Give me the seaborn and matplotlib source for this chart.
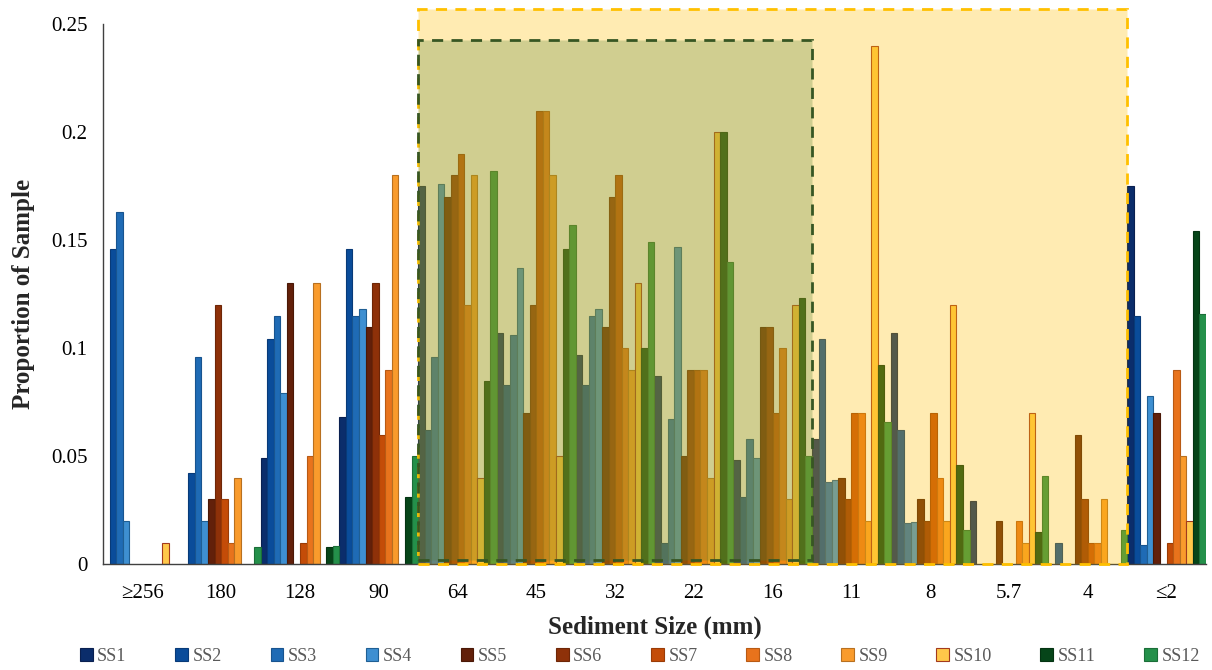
import numpy as np
import pandas as pd
import matplotlib
matplotlib.use('Agg')
import matplotlib.pyplot as plt
import seaborn as sns
from matplotlib.patches import Rectangle, Patch

sizes = ['≥256', '180', '128', '90', '64', '45', '32', '22', '16', '11', '8', '5.7', '4', '≤2']
series = ['SS1', 'SS2', 'SS3', 'SS4', 'SS5', 'SS6', 'SS7', 'SS8', 'SS9', 'SS10', 'SS11', 'SS12']

ss1 = [0, 0, 0.049, 0.068, 0.175, 0.107, 0.097, 0.087, 0.048, 0.058, 0.107, 0.029, 0, 0.175]
ss2 = [0.146, 0.042, 0.104, 0.146, 0.062, 0.083, 0.083, 0.01, 0.031, 0.104, 0.062, 0, 0.01, 0.115]
ss3 = [0.163, 0.096, 0.115, 0.115, 0.096, 0.106, 0.115, 0.067, 0.058, 0.038, 0.019, 0, 0, 0.009]
ss4 = [0.02, 0.02, 0.079, 0.118, 0.176, 0.137, 0.118, 0.147, 0.049, 0.039, 0.0195, 0, 0, 0.078]
ss5 = [0, 0.03, 0.13, 0.11, 0.17, 0.07, 0.11, 0.05, 0.11, 0.04, 0.03, 0.02, 0.06, 0.07]
ss6 = [0, 0.12, 0, 0.13, 0.18, 0.12, 0.17, 0.09, 0.11, 0.03, 0.02, 0, 0.03, 0]
ss7 = [0, 0.03, 0.01, 0.06, 0.19, 0.21, 0.18, 0.09, 0.07, 0.07, 0.07, 0, 0.01, 0.01]
ss8 = [0, 0.01, 0.05, 0.09, 0.12, 0.21, 0.10, 0.09, 0.10, 0.07, 0.04, 0.02, 0.01, 0.09]
ss9 = [0, 0.04, 0.13, 0.18, 0.18, 0.18, 0.09, 0.04, 0.03, 0.02, 0.02, 0.01, 0.03, 0.05]
ss10 = [0.01, 0, 0, 0, 0.04, 0.05, 0.13, 0.20, 0.12, 0.24, 0.12, 0.07, 0, 0.02]
ss11 = [0, 0, 0.008, 0.031, 0.085, 0.146, 0.10, 0.20, 0.123, 0.092, 0.046, 0.015, 0, 0.154]
ss12 = [0, 0.008, 0.0085, 0.05, 0.182, 0.157, 0.149, 0.14, 0.05, 0.066, 0.016, 0.041, 0.016, 0.116]

all_series = [ss1, ss2, ss3, ss4, ss5, ss6, ss7, ss8, ss9, ss10, ss11, ss12]

colors = ['#0B2D6B', '#0A4C9A', '#1F6BB5', '#3E8FD1', '#62200A', '#8E3109',
          '#C44C08', '#E8731C', '#F99B2C', '#FFC84A', '#064519', '#24904A']
edges = ['#0A2050', '#083A78', '#18548F', '#1F5F94', '#4A1806', '#6E2607',
         '#9A3B06', '#B85A14', '#B87020', '#A33A1E', '#043312', '#1B6E38']

rows = []
for name, vals in zip(series, all_series):
    for s, v in zip(sizes, vals):
        rows.append({'size': s, 'series': name, 'value': v})
df = pd.DataFrame(rows)

sns.set_style('white')
plt.rcParams['font.family'] = ['Liberation Serif', 'DejaVu Serif']

fig = plt.figure(figsize=(12.12, 6.7), dpi=100)
ax = fig.add_axes([0.085, 0.158, 0.910, 0.806])

sns.barplot(data=df, x='size', y='value', hue='series', order=sizes,
            hue_order=series, palette=colors, width=1.0, dodge=True,
            saturation=1, legend=False, ax=ax, zorder=2)

for cont, ec in zip(ax.containers, edges):
    for p in cont:
        p.set_edgecolor(ec)
        p.set_linewidth(0.8 if p.get_height() > 0 else 0)

ax.set_xlim(-0.5, 13.5)
ax.set_ylim(0, 0.25)

# Highlight regions
yellow = Rectangle((3.5, 0.0), 9.0, 0.257, facecolor=(1.0, 0.753, 0.0, 0.30),
                   edgecolor='#FFC000', linestyle=(0, (4, 3)), linewidth=2.0,
                   zorder=4, clip_on=False)
green = Rectangle((3.5, 0.002), 5.0, 0.2405, facecolor=(0.33, 0.51, 0.21, 0.27),
                  edgecolor='#375623', linestyle=(0, (4, 3)), linewidth=2.0,
                  zorder=5, clip_on=False)
ax.add_patch(yellow)
ax.add_patch(green)

ax.set_yticks([0, 0.05, 0.1, 0.15, 0.2, 0.25])
ax.set_yticklabels(['0', '0.05', '0.1', '0.15', '0.2', '0.25'])
ax.set_xticks(range(len(sizes)))
ax.set_xticklabels(sizes)
ax.set_xticks(np.arange(-0.5, len(sizes), 1.0), minor=True)
ax.tick_params(axis='x', which='major', length=0, pad=14, labelsize=15, colors='black')
ax.tick_params(axis='x', which='minor', length=8, width=1.0, direction='out', color='#404040')
ax.tick_params(axis='y', which='major', length=10, width=1.0, direction='inout',
               labelsize=15, pad=6, color='#404040', labelcolor='black')

for side in ['top', 'right']:
    ax.spines[side].set_visible(False)
for side in ['left', 'bottom']:
    ax.spines[side].set_color('#404040')
    ax.spines[side].set_linewidth(1.0)

ax.set_xlabel('Sediment Size (mm)', fontsize=18, fontweight='bold', labelpad=9)
ax.set_ylabel('Proportion of Sample', fontsize=18, fontweight='bold', labelpad=12)

handles = [Patch(facecolor=c, edgecolor=e, linewidth=0.8) for c, e in zip(colors, edges)]
leg = fig.legend(handles, series, loc='center', bbox_to_anchor=(0.528, 0.02), ncol=12,
                 frameon=False, handlelength=0.7, handleheight=0.7, handletextpad=0.25,
                 columnspacing=2.7, fontsize=13)
for t in leg.get_texts():
    t.set_color('#595959')

fig.savefig('out.png', dpi=100)
